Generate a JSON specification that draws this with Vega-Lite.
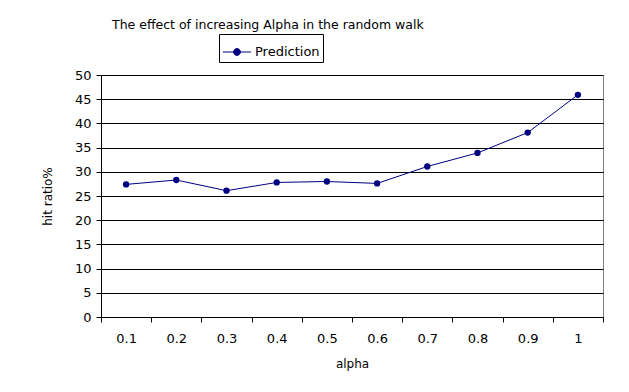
{
  "$schema": "https://vega.github.io/schema/vega-lite/v6.json",
  "autosize": "none",
  "width": 502,
  "height": 242,
  "padding": {"left": 101, "top": 75, "right": 26, "bottom": 75},
  "background": "white",
  "config": {
    "font": "DejaVu Sans",
    "view": {"stroke": "#808080", "strokeWidth": 1}
  },
  "title": {
    "text": "The effect of increasing Alpha in the random walk",
    "anchor": "start",
    "frame": "group",
    "dx": 11,
    "offset": 2,
    "fontSize": 12.5,
    "fontWeight": "normal",
    "font": "DejaVu Sans",
    "color": "#000"
  },
  "data": {
    "values": [
      {"alpha": "0.1", "hit": 27.4, "series": "Prediction"},
      {"alpha": "0.2", "hit": 28.3, "series": "Prediction"},
      {"alpha": "0.3", "hit": 26.1, "series": "Prediction"},
      {"alpha": "0.4", "hit": 27.8, "series": "Prediction"},
      {"alpha": "0.5", "hit": 28.0, "series": "Prediction"},
      {"alpha": "0.6", "hit": 27.6, "series": "Prediction"},
      {"alpha": "0.7", "hit": 31.1, "series": "Prediction"},
      {"alpha": "0.8", "hit": 33.9, "series": "Prediction"},
      {"alpha": "0.9", "hit": 38.1, "series": "Prediction"},
      {"alpha": "1", "hit": 45.9, "series": "Prediction"}
    ]
  },
  "mark": {"type": "line", "strokeWidth": 1, "point": {"filled": true, "size": 40}},
  "encoding": {
    "x": {
      "field": "alpha",
      "type": "ordinal",
      "sort": null,
      "scale": {"type": "band", "paddingInner": 0, "paddingOuter": 0},
      "axis": {
        "title": "alpha",
        "labelAngle": 0,
        "tickBand": "extent",
        "domainColor": "#000",
        "tickColor": "#000",
        "tickSize": 5,
        "labelFontSize": 13,
        "labelColor": "#000",
        "labelPadding": 10,
        "titleFontSize": 12,
        "titleFontWeight": "normal",
        "titleColor": "#000",
        "titlePadding": 13
      }
    },
    "y": {
      "field": "hit",
      "type": "quantitative",
      "scale": {"domain": [0, 50], "nice": false, "zero": true},
      "axis": {
        "title": "hit ratio%",
        "values": [0, 5, 10, 15, 20, 25, 30, 35, 40, 45, 50],
        "grid": true,
        "gridColor": "#000",
        "gridOpacity": 1,
        "domainColor": "#000",
        "tickColor": "#000",
        "tickSize": 5,
        "labelFontSize": 13,
        "labelColor": "#000",
        "labelPadding": 5,
        "titleFontSize": 12,
        "titleFontWeight": "normal",
        "titleColor": "#000",
        "titlePadding": 20
      }
    },
    "color": {
      "field": "series",
      "type": "nominal",
      "scale": {"range": ["#000080"]},
      "legend": {
        "title": null,
        "orient": "none",
        "legendX": 118,
        "legendY": -41,
        "strokeColor": "#000",
        "fillColor": "white",
        "padding": 3,
        "labelFontSize": 13,
        "labelColor": "#000",
        "labelOffset": 3,
        "symbolType": "M-1,0L1,0M-0.24,0A0.24,0.24 0 1 1 0.24,0A0.24,0.24 0 1 1 -0.24,0Z",
        "symbolSize": 800,
        "symbolStrokeWidth": 1,
        "symbolFillColor": "#000080",
        "symbolStrokeColor": "#000080",
        "symbolOffset": 0
      }
    }
  }
}
